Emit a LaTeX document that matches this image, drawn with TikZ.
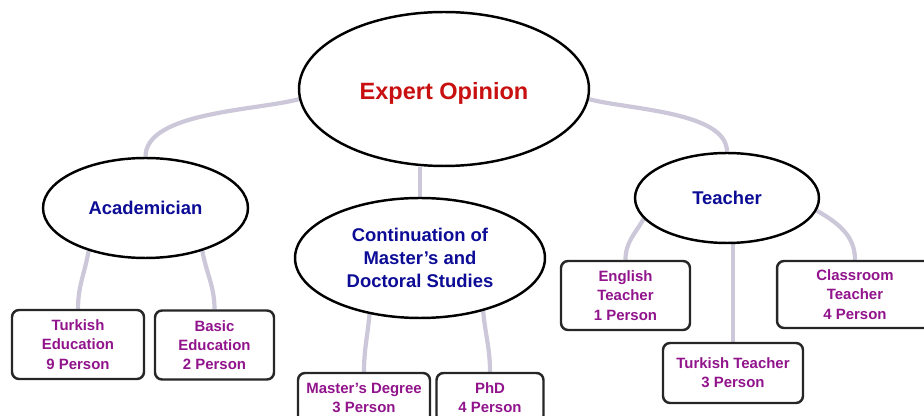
\documentclass[tikz,border=0pt]{standalone}
\usepackage{fontspec}
\setmainfont{Liberation Sans}
\usetikzlibrary{shapes.geometric,backgrounds}

\definecolor{opinionred}{RGB}{200,16,16}
\definecolor{labelblue}{RGB}{12,12,150}
\definecolor{personpurple}{RGB}{145,20,140}
\definecolor{branchgray}{RGB}{204,200,218}

\tikzset{
	topic/.style={ellipse, draw=black, line width=1.4pt, fill=white, inner sep=0pt, align=center,
		text=labelblue, font=\bfseries\fontsize{10.5}{13}\selectfont},
	field/.style={rectangle, rounded corners=4pt, draw=black!85, line width=1.4pt, fill=white,
		inner sep=0pt, align=center, text=personpurple, font=\bfseries\fontsize{8.5}{11}\selectfont},
	branch/.style={draw=branchgray, line width=2.4pt},
}

\begin{document}
\begin{tikzpicture}[x=0.02cm, y=0.02cm]
		%%%%% START %%%%%
		\useasboundingbox (0, 0) rectangle (924, 416);
		
		% top level
		\node[topic, minimum width=5.8cm, minimum height=3.08cm, text=opinionred, text height=0.54cm, text depth=0.1cm,
			font=\bfseries\fontsize{13.4}{16}\selectfont] (expert) at (444, 327) {Expert Opinion};
		
		% second level
		\node[topic, minimum width=4.1cm, minimum height=2cm] (academ) at (145.5, 208) {Academician};
		\node[topic, minimum width=5cm, minimum height=2.4cm] (contin) at (420, 158)
			{Continuation of\\Master's and\\Doctoral Studies};
		\node[topic, minimum width=3.68cm, minimum height=1.8cm] (teacher) at (727, 218) {Teacher};
		
		% leaves
		\node[field, minimum width=2.64cm, minimum height=1.38cm] (turkedu) at (78, 71.5) {Turkish\\Education\\9 Person};
		\node[field, minimum width=2.38cm, minimum height=1.38cm] (basicedu) at (214.5, 71) {Basic\\Education\\2 Person};
		\node[field, minimum width=2.64cm, minimum height=1cm] (masters) at (364, 18) {Master's Degree\\3 Person};
		\node[field, minimum width=2.14cm, minimum height=1cm] (phd) at (490, 18) {PhD\\4 Person};
		\node[field, minimum width=2.58cm, minimum height=1.38cm] (english) at (625.5, 120.5) {English\\Teacher\\1 Person};
		\node[field, minimum width=3.12cm, minimum height=1.34cm] (classroom) at (855, 121.5) {Classroom\\Teacher\\4 Person};
		\node[field, minimum width=2.8cm, minimum height=1.2cm] (turkteach) at (733, 43) {Turkish Teacher\\3 Person};
		
		% branches behind the shapes
		\begin{scope}[on background layer]
			\draw[branch] (expert.184) to[out=195, in=90, looseness=0.7] (academ.north);
			\draw[branch] (expert.-4) to[out=-15, in=90, looseness=0.7] (teacher.north);
			\draw[branch] (contin.north) -- (contin.north |- expert.south);
			
			\draw[branch] (academ.217) to[out=-100, in=90] (turkedu.north);
			\draw[branch] (academ.-37) to[out=-80, in=90] (basicedu.north);
			
			\draw[branch] (contin.228) to[out=-95, in=90] (masters.north);
			\draw[branch] (contin.-40) to[out=-85, in=90] (phd.north);
			
			\draw[branch] (teacher.194) to[out=240, in=90] (english.north);
			\draw[branch] (teacher.-8) to[out=-30, in=90] (classroom.north);
			\draw[branch] (turkteach.north) -- (turkteach.north |- teacher.south);
		\end{scope}
		
		%%%%% END %%%%%
	\end{tikzpicture}
\end{document}
